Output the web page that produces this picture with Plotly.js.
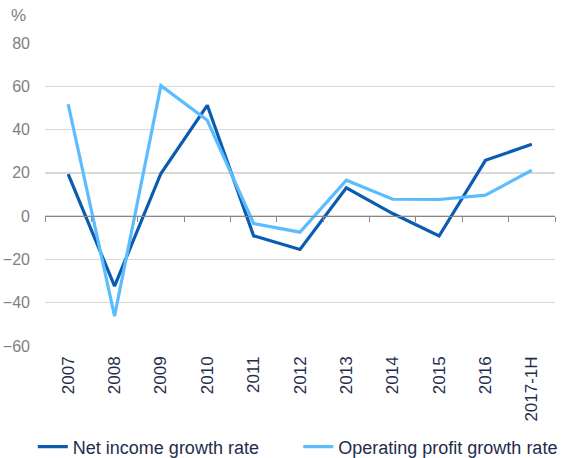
<!DOCTYPE html>
<html><head><meta charset="utf-8">
<script src="https://cdn.plot.ly/plotly-3.0.1.min.js"></script>
<style>body{margin:0;background:#fff}#c{width:566px;height:458px}</style>
</head><body><div id="c"></div>
<script>
var categories = ["2007","2008","2009","2010","2011","2012","2013","2014","2015","2016","2017-1H"];
var netIncome = [19.4, -32.3, 19.7, 51.2, -9.1, -15.4, 13.1, 1.2, -9.2, 25.8, 33.2];
var operatingProfit = [51.7, -46.2, 60.3, 44.3, -3.4, -7.4, 16.6, 7.8, 7.7, 9.7, 21.2];
var yTicks = [-60, -40, -20, 0, 20, 40, 60, 80];

var navy = "#1f2d4d", gray = "#808080";
var traces = [
  {x: categories, y: netIncome, type: "scatter", mode: "lines", name: "Net income growth rate",
   line: {color: "#0a5cb0", width: 3.2}, xaxis: "x", yaxis: "y", legend: "legend"},
  {x: categories, y: operatingProfit, type: "scatter", mode: "lines", name: "Operating profit growth rate",
   line: {color: "#5bbcff", width: 3.2}, xaxis: "x2", yaxis: "y", legend: "legend2"}
];
var legendBase = {orientation: "h", xref: "container", yref: "container", xanchor: "left",
                  y: 0.024, yanchor: "middle", font: {size: 18, color: navy}};
var layout = {
  width: 566, height: 458,
  margin: {l: 45, r: 11, t: 43, b: 112},
  paper_bgcolor: "#fff", plot_bgcolor: "#fff",
  font: {family: "Liberation Sans, Arial, sans-serif", size: 17, color: gray},
  showlegend: true,
  legend: Object.assign({}, legendBase, {x: 0.058}),
  legend2: Object.assign({}, legendBase, {x: 0.527}),
  xaxis: {type: "category", categoryarray: categories, range: [-0.5, 10.5], automargin: false,
          showgrid: false, zeroline: false, showline: false, ticks: "",
          tickangle: -90, tickfont: {size: 17, color: navy}, ticklabelstandoff: 6, fixedrange: true},
  xaxis2: {type: "category", matches: "x", overlaying: "x", anchor: "free", position: 60/140,
           showline: true, linecolor: "#888", linewidth: 1.3, ticks: "outside", ticklen: 5,
           tickcolor: "#888", tickson: "boundaries", showticklabels: false, showgrid: false,
           zeroline: false, automargin: false},
  yaxis: {range: [-60, 80], tickvals: yTicks, showgrid: true, gridcolor: "#d9d9d9", gridwidth: 1.3,
          zeroline: false, showline: false, ticks: "", tickfont: {size: 16, color: gray},
          ticklabelstandoff: 14, automargin: false, fixedrange: true},
  annotations: [{text: "%", xref: "paper", yref: "paper", x: -0.07, y: 1.0, yshift: 16,
                 xanchor: "left", yanchor: "bottom", showarrow: false, font: {size: 17, color: gray}}]
};
Plotly.newPlot("c", traces, layout, {displayModeBar: false, staticPlot: true});
</script></body></html>
